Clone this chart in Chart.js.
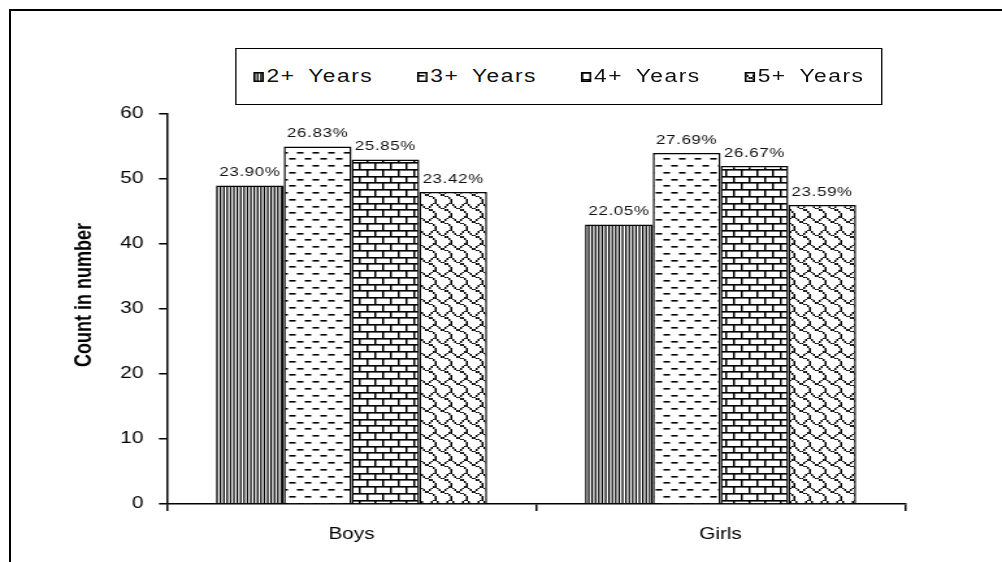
<!DOCTYPE html>
<html>
<head>
<meta charset="utf-8">
<script src="https://cdn.jsdelivr.net/npm/chart.js@4"></script>
<style>
  html, body { margin: 0; padding: 0; background: #fff; }
  body { width: 1002px; height: 562px; position: relative; overflow: hidden;
         font-family: "Liberation Sans", Arial, sans-serif; }
  /* outer frame of the exported picture */
  #frame { position: absolute; left: 9px; top: 9px; width: 1100px; height: 700px;
           border-left: 2px solid #000; border-top: 2px solid #000; }
  /* the source picture is stretched sideways, so draw narrow and stretch */
  #stretch { position: absolute; left: 0; top: 0; width: 771px; height: 562px;
             transform: scaleX(1.2996); transform-origin: 0 0; }
  #chartBox { position: absolute; left: 0; top: 0; width: 771px; height: 562px; }
  #legend { position: absolute; left: 181px; top: 48px; width: 498px; height: 57px;
            box-sizing: border-box; border: 1.5px solid #000; background: #fff;
            display: flex; align-items: center; padding-left: 13px; }
  .item { display: flex; align-items: center; flex: 0 0 126px; font-size: 17.5px; color: #111;
          letter-spacing: 1.2px; word-spacing: 4px; white-space: nowrap; }
  .item canvas { width: 8px; height: 10px; margin-right: 2px; box-sizing: border-box; }
</style>
</head>
<body>
<div id="frame"></div>
<div id="stretch">
  <div id="chartBox"><canvas id="chart"></canvas></div>
  <div id="legend"></div>
</div>
<script>
/* ── chart data ── */
var categories = ['Boys', 'Girls'];
var seriesNames = ['2+ Years', '3+ Years', '4+ Years', '5+ Years'];
var years2 = [49, 43];
var years3 = [55, 54];
var years4 = [53, 52];
var years5 = [48, 46];
var pct2 = ['23.90%', '22.05%'];
var pct3 = ['26.83%', '27.69%'];
var pct4 = ['25.85%', '26.67%'];
var pct5 = ['23.42%', '23.59%'];
var yTicks = [0, 10, 20, 30, 40, 50, 60];
var yTitle = 'Count in number';

var FONT = '"Liberation Sans", Arial, sans-serif';

/* ── hatch tiles (black on white) ── */
function makeTile(w, h, draw) {
    var c = document.createElement('canvas');
    c.width = w; c.height = h;
    var g = c.getContext('2d');
    g.fillStyle = '#fff';
    g.fillRect(0, 0, w, h);
    g.fillStyle = '#000';
    draw(g, w, h);
    return c;
}

var rowY = [0, 7, 14, 20, 27];

var tiles = [
    // narrow vertical stripes
    makeTile(13, 4, function (g) {
        for (var i = 0; i < 5; i++) g.fillRect(i * 2.6, 0, 1.25, 4);
    }),
    // dashed horizontal
    makeTile(12, 27, function (g) {
        for (var r = 0; r < 4; r++) {
            var x0 = r % 2 ? 6.5 : 0.5;
            g.fillRect(x0, rowY[r] + 3, 5, 1.6);
        }
    }),
    // horizontal brick
    makeTile(12, 27, function (g) {
        for (var r = 0; r < 4; r++) {
            g.fillRect(0, rowY[r], 12, 1.6);
            g.fillRect(r % 2 ? 6 : 0, rowY[r], 1.5, rowY[r + 1] - rowY[r]);
        }
    }),
    // shingle
    makeTile(12, 27, function (g) {
        var bits = [0x03, 0x84, 0x48, 0x30, 0x0c, 0x02, 0x01, 0x01];
        for (var k = 0; k < 16; k++) {
            var y0 = Math.round(k * 27 / 16), y1 = Math.round((k + 1) * 27 / 16);
            var b = bits[k % 8];
            for (var j = 0; j < 8; j++) {
                if (b & (0x80 >> j)) g.fillRect(j * 1.5, y0, 1.5, y1 - y0);
            }
        }
    })
];

function patternFor(ctx, i) { return ctx.createPattern(tiles[i], 'repeat'); }

/* ── HTML legend ── */
var legendEl = document.getElementById('legend');
seriesNames.forEach(function (name, i) {
    var item = document.createElement('div');
    item.className = 'item';
    var sw = document.createElement('canvas');
    sw.width = 8; sw.height = 10;
    var sc = sw.getContext('2d');
    sc.fillStyle = patternFor(sc, i);
    sc.fillRect(0, 0, 8, 10);
    sc.strokeStyle = '#000';
    sc.lineWidth = 1.5;
    sc.strokeRect(0.75, 0.75, 6.5, 8.5);
    item.appendChild(sw);
    var tx = document.createElement('span');
    tx.textContent = name;
    item.appendChild(tx);
    legendEl.appendChild(item);
});

/* ── plugins: bar percentage labels + rotated axis title ── */
var pctLabels = [pct2, pct3, pct4, pct5];

var barLabels = {
    id: 'barLabels',
    afterDatasetsDraw: function (chart) {
        var ctx = chart.ctx;
        ctx.save();
        ctx.font = '13px ' + FONT;
        ctx.letterSpacing = '0.5px';
        ctx.fillStyle = '#111';
        ctx.textAlign = 'center';
        ctx.textBaseline = 'alphabetic';
        chart.data.datasets.forEach(function (ds, i) {
            chart.getDatasetMeta(i).data.forEach(function (bar, j) {
                ctx.fillText(pctLabels[i][j], bar.x, bar.y - 9.5);
            });
        });
        ctx.restore();
    }
};

var yTitlePlugin = {
    id: 'yTitlePlugin',
    afterDraw: function (chart) {
        var ctx = chart.ctx;
        ctx.save();
        ctx.translate(64.6, 295);
        ctx.rotate(-Math.PI / 2);
        ctx.font = 'bold 18px ' + FONT;
        ctx.fillStyle = '#000';
        ctx.textAlign = 'center';
        ctx.textBaseline = 'middle';
        ctx.fillText(yTitle, 0, 0);
        ctx.restore();
    }
};

/* ── chart ── */
var ctx = document.getElementById('chart').getContext('2d');
var seriesValues = [years2, years3, years4, years5];

new Chart(ctx, {
    type: 'bar',
    data: {
        labels: categories,
        datasets: seriesNames.map(function (name, i) {
            return {
                label: name,
                data: seriesValues[i],
                backgroundColor: patternFor(ctx, i),
                borderColor: '#000',
                borderWidth: 1.5,
                barPercentage: 1,
                categoryPercentage: 0.7345
            };
        })
    },
    options: {
        responsive: true,
        maintainAspectRatio: false,
        animation: false,
        layout: { padding: { left: 49.8, right: 74.6, top: 114, bottom: 18 } },
        plugins: { legend: { display: false }, tooltip: { enabled: false } },
        scales: {
            x: {
                afterFit: function (s) { s.height = 40; },
                grid: { offset: true, drawOnChartArea: false, drawTicks: true, tickLength: 7,
                        color: '#000', lineWidth: 1.5 },
                border: { display: true, color: '#000', width: 1.5 },
                ticks: { color: '#000', padding: 14, font: { family: FONT, size: 16 } }
            },
            y: {
                min: yTicks[0],
                max: yTicks[yTicks.length - 1],
                afterFit: function (s) { s.width = 78.7; },
                grid: { drawOnChartArea: false, drawTicks: true, tickLength: 6.2,
                        color: '#000', lineWidth: 1.5 },
                border: { display: true, color: '#000', width: 1.5 },
                ticks: { stepSize: yTicks[1] - yTicks[0], color: '#000', padding: 12,
                         font: { family: FONT, size: 16 } }
            }
        }
    },
    plugins: [barLabels, yTitlePlugin]
});
</script>
</body>
</html>
